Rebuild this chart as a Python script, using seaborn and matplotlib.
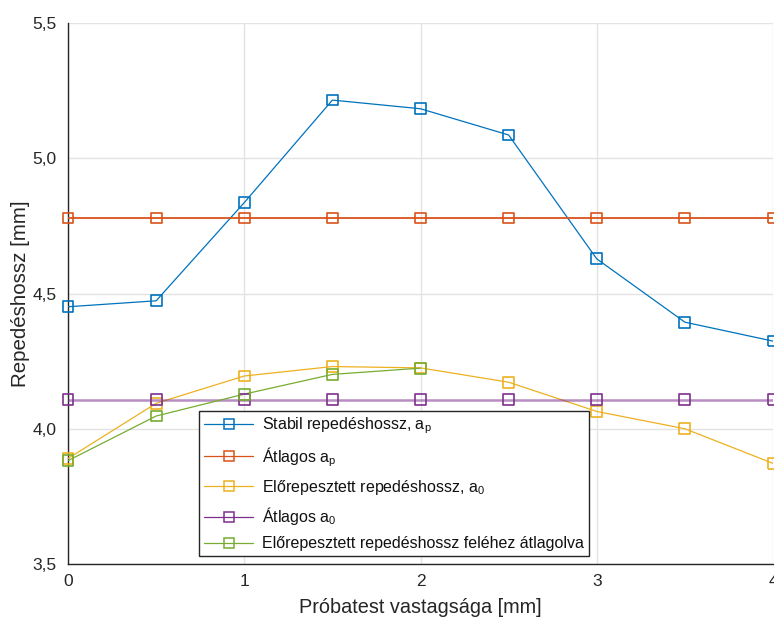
import matplotlib
matplotlib.use("Agg")
import matplotlib.pyplot as plt
import seaborn as sns
import pandas as pd
from matplotlib.ticker import FuncFormatter

# Specimen thickness positions [mm]
thickness = [0, 0.5, 1, 1.5, 2, 2.5, 3, 3.5, 4]
thickness_half = [0, 0.5, 1, 1.5, 2]

# Crack lengths [mm]
stable_crack = [4.451, 4.473, 4.836, 5.215, 5.183, 5.086, 4.628, 4.394, 4.324]
mean_stable = 4.779
precrack = [3.890, 4.094, 4.195, 4.230, 4.225, 4.172, 4.064, 4.000, 3.872]
mean_precrack = 4.107
precrack_half_avg = [3.882, 4.047, 4.128, 4.201, 4.224]

labels = [
    r"Stabil repedéshossz, a$_\mathregular{p}$",
    r"Átlagos a$_\mathregular{p}$",
    r"Előrepesztett repedéshossz, a$_\mathregular{0}$",
    r"Átlagos a$_\mathregular{0}$",
    "Előrepesztett repedéshossz feléhez átlagolva",
]
colors = ["#0072BD", "#D95319", "#EDB120", "#7E2F8E", "#77AC30"]

sns.set_theme(style="white")
plt.rcParams["font.family"] = ["Liberation Sans", "DejaVu Sans"]
plt.rcParams["mathtext.fontset"] = "custom"
plt.rcParams["mathtext.rm"] = "Liberation Sans"
plt.rcParams["mathtext.it"] = "Liberation Sans"

fig = plt.figure(figsize=(7.74, 6.19), dpi=100)
ax = fig.add_axes([68 / 774, 55 / 619, 705 / 774, 541 / 619])

series = [
    (thickness, stable_crack, dict(lw=0.9, alpha=1.0)),
    (thickness, [mean_stable] * len(thickness), dict(lw=1.3, alpha=1.0)),
    (thickness, precrack, dict(lw=0.9, alpha=1.0)),
    (thickness, [mean_precrack] * len(thickness), dict(lw=1.8, alpha=0.55)),
    (thickness_half, precrack_half_avg, dict(lw=0.9, alpha=1.0)),
]

handles = []
for (xs, ys, st), lab, col in zip(series, labels, colors):
    df = pd.DataFrame({"x": xs, "y": ys})
    sns.lineplot(data=df, x="x", y="y", ax=ax, color=col, lw=st["lw"],
                 alpha=st["alpha"], legend=False, zorder=3)
    sns.scatterplot(data=df, x="x", y="y", ax=ax, marker="s", s=60,
                    facecolor="none", edgecolor=col, linewidth=1.2,
                    legend=False, zorder=4, clip_on=False)
    h, = ax.plot([], [], color=col, lw=0.9, marker="s", ms=7.5,
                 mfc="none", mec=col, mew=1.1, label=lab)
    handles.append(h)

ax.set_xlim(0, 4)
ax.set_ylim(3.5, 5.5)
ax.set_xticks([0, 1, 2, 3, 4])
ax.set_yticks([3.5, 4.0, 4.5, 5.0, 5.5])
ax.xaxis.set_major_formatter(FuncFormatter(lambda v, p: f"{v:g}"))
ax.yaxis.set_major_formatter(FuncFormatter(lambda v, p: f"{v:.1f}".replace(".", ",")))

ax.grid(True, color="#E3E3E3", lw=1.0, zorder=0)
ax.set_axisbelow(True)
for side in ["top", "right"]:
    ax.spines[side].set_visible(False)
for side in ["left", "bottom"]:
    ax.spines[side].set_color("#262626")
    ax.spines[side].set_linewidth(1.0)
ax.tick_params(axis="both", direction="in", length=5, width=1.0,
               color="#262626", labelcolor="#262626", labelsize=12.5)
ax.tick_params(axis="y", pad=8)
ax.tick_params(axis="x", pad=7)

ax.set_xlabel("Próbatest vastagsága [mm]", fontsize=14.3, color="#262626")
ax.set_ylabel("Repedéshossz [mm]", fontsize=14.8, color="#262626")
ax.xaxis.set_label_coords(0.5, -0.062)
ax.yaxis.set_label_coords(-0.054, 0.5)

leg = ax.legend(handles=handles, loc="lower left",
                bbox_to_anchor=(0.186, 0.015), fontsize=11.5,
                frameon=True, fancybox=False, framealpha=1.0,
                edgecolor="#262626", handlelength=3.1, handletextpad=0.55,
                borderpad=0.3, labelspacing=0.55, borderaxespad=0)
leg.get_frame().set_linewidth(1.0)
for t in leg.get_texts():
    t.set_color("#111111")

fig.savefig("out.png", dpi=100, facecolor="white")
